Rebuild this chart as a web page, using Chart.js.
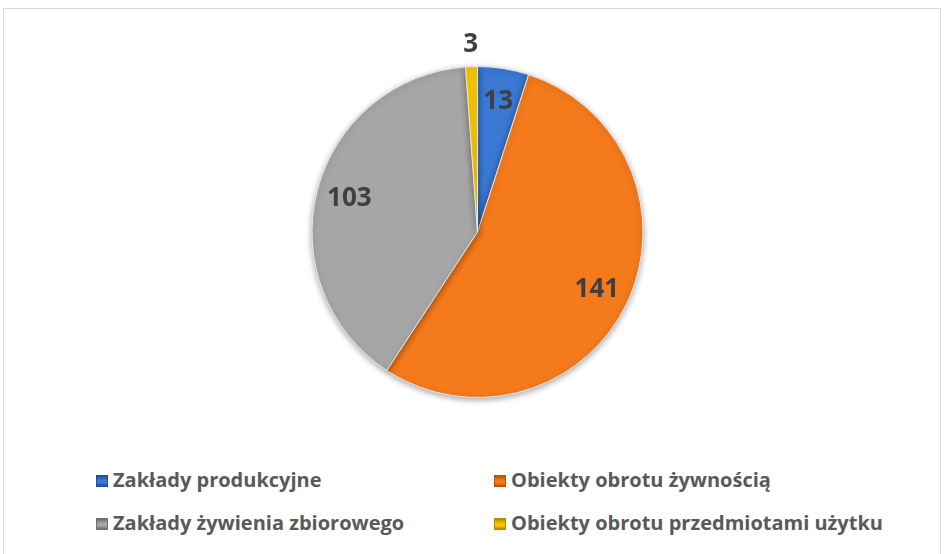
<!DOCTYPE html>
<html>
<head>
<meta charset="utf-8">
<script src="https://cdn.jsdelivr.net/npm/chart.js@4.4.0/dist/chart.umd.min.js"></script>
<style>
  body { margin: 0; background: #fff; }
  #wrap { position: relative; width: 947px; height: 554px; }
  #frame { position: absolute; left: 3px; top: 8px; width: 938px; height: 560px; border: 1px solid #d9d9d9; box-sizing: border-box; }
  #chartBox { position: absolute; left: 0; top: 0; width: 947px; height: 420px; }
  .legend { position: absolute; font-family: "Open Sans", sans-serif; font-weight: 700; font-size: 20px; line-height: 22px; color: #595959; white-space: nowrap; }
  .legend span.mk { display: inline-block; width: 12px; height: 12px; margin-right: 5px; vertical-align: 0px; box-sizing: border-box; }
</style>
</head>
<body>
<div id="wrap">
  <div id="frame"></div>
  <div id="chartBox"><canvas id="chart"></canvas></div>
  <div id="legendBox"></div>
</div>
<script>
  const labels = ['Zakłady produkcyjne', 'Obiekty obrotu żywnością', 'Zakłady żywienia zbiorowego', 'Obiekty obrotu przedmiotami użytku'];
  const values = [13, 141, 103, 3];
  const colors = ['#3a78d4', '#f47a1c', '#a6a6a6', '#f7c600'];
  const darkColors = ['#1f4f9c', '#b8520c', '#6e6e6e', '#b08a00'];

  // pozycje legendy (kolumna, wiersz)
  const legendPos = [[96, 469], [494, 469], [96, 512], [494, 512]];

  const legendBox = document.getElementById('legendBox');
  for (let i = 0; i < labels.length; i++) {
    const item = document.createElement('div');
    item.className = 'legend';
    item.style.left = legendPos[i][0] + 'px';
    item.style.top = legendPos[i][1] + 'px';
    const mk = document.createElement('span');
    mk.className = 'mk';
    mk.style.background = 'linear-gradient(180deg, ' + darkColors[i] + ' 0%, ' + colors[i] + ' 45%, ' + colors[i] + ' 70%, ' + darkColors[i] + ' 100%)';
    mk.style.border = '1px solid ' + darkColors[i];
    item.appendChild(mk);
    item.appendChild(document.createTextNode(labels[i]));
    legendBox.appendChild(item);
  }

  // Etykiety wartości na wycinkach
  const valueLabels = {
    id: 'valueLabels',
    afterDatasetsDraw(chart) {
      const ctx = chart.ctx;
      const meta = chart.getDatasetMeta(0);
      ctx.save();
      ctx.font = 'bold 26px "Open Sans", sans-serif';
      ctx.fillStyle = '#404040';
      ctx.textAlign = 'center';
      ctx.textBaseline = 'middle';
      meta.data.forEach((arc, i) => {
        const mid = (arc.startAngle + arc.endAngle) / 2;
        const r = values[i] < 5 ? arc.outerRadius + 22 : arc.outerRadius * 0.8;
        const x = arc.x + Math.cos(mid) * r;
        const y = arc.y + Math.sin(mid) * r;
        ctx.fillText(String(values[i]), x, y);
      });
      ctx.restore();
    }
  };

  // lekki cień pod kołem
  const pieShadow = {
    id: 'pieShadow',
    beforeDatasetsDraw(chart) {
      chart.ctx.save();
      chart.ctx.shadowColor = 'rgba(0,0,0,0.35)';
      chart.ctx.shadowBlur = 6;
      chart.ctx.shadowOffsetY = 2;
    },
    afterDatasetsDraw(chart) {
      chart.ctx.restore();
    }
  };

  const ctx = document.getElementById('chart').getContext('2d');
  const chart = new Chart(ctx, {
    type: 'pie',
    data: {
      labels: labels,
      datasets: [{
        data: values,
        backgroundColor: colors,
        borderColor: '#e8e8e8',
        borderWidth: 1
      }]
    },
    options: {
      responsive: true,
      maintainAspectRatio: false,
      animation: false,
      layout: { padding: { top: 66, bottom: 22, left: 8, right: 0 } },
      plugins: {
        legend: { display: false },
        tooltip: { enabled: false }
      }
    },
    plugins: [pieShadow, valueLabels]
  });
</script>
</body>
</html>
